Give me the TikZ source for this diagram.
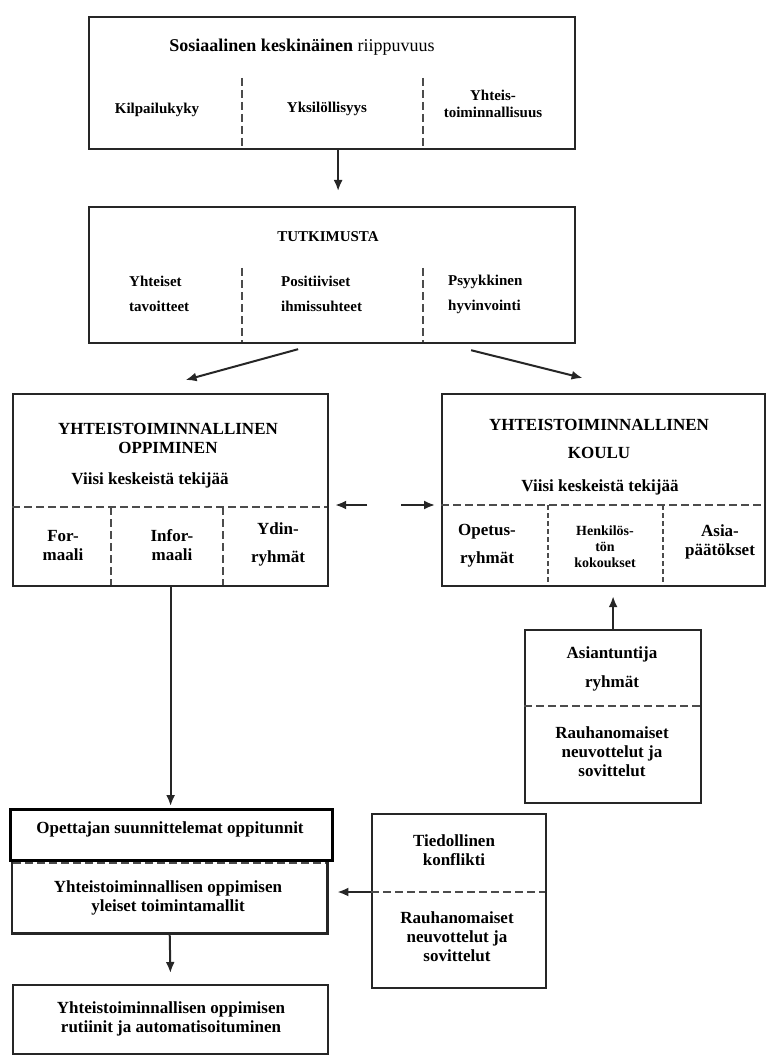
\documentclass[tikz,border=0pt]{standalone}
\usepackage{fontspec}
\setmainfont{Liberation Serif}
\usetikzlibrary{positioning,arrows.meta}

\begin{document}
\begin{tikzpicture}[
  x=1pt, y=-1pt,
  font=\fontsize{17}{19}\selectfont\bfseries,
  >=Latex,
  box/.style={draw=black!85, line width=2.2pt, anchor=north west, inner sep=0pt},
  split/.style={draw=black!70, line width=2pt, dash pattern=on 8pt off 4pt},
  txt/.style={align=center, inner sep=0pt},
  small/.style={font=\fontsize{15}{17}\selectfont\bfseries},
  arrow/.style={-{Latex[length=11pt,width=9pt]}, line width=2pt, draw=black!85, fill=black!85},
]
\useasboundingbox (0,0) rectangle (768,1056);

% Core boxes
\node[box, minimum width=486, minimum height=132] (social) at (88,16) {};
\node[box, minimum width=486, minimum height=136] (research) at (88,206) {};
\node[box, minimum width=315, minimum height=192] (learning) at (12,393) {};
\node[box, minimum width=323, minimum height=192] (school) at (441,393) {};
\node[box, minimum width=176, minimum height=173] (expert) at (524,629) {};
\node[box, minimum width=174, minimum height=174] (conflict) at (371,813) {};
\node[anchor=north west, inner sep=0pt, minimum width=315, minimum height=74] (models) at (12,859) {};
\node[box, minimum width=315, minimum height=69] (routine) at (12,984) {};

% models box: open top, dashed
\draw[draw=black!85, line width=2.2pt] (models.north west) -- (models.south west) -- (models.south east) -- (models.north east);
\draw[split] (13,863) -- (326,863);
\node[box, draw=black, line width=3pt, minimum width=322, minimum height=51] (plan) at (9,808) {};

% Inner dividers (dashed)
\draw[split] (242,78) -- (242,148);
\draw[split] (423,78) -- (423,148);
\draw[split] (242,268) -- (242,342);
\draw[split] (423,268) -- (423,342);

\draw[split] (12,507) -- (327,507);
\draw[split] (111,507) -- (111,585);
\draw[split] (223,507) -- (223,585);

\draw[split] (441,505) -- (764,505);
\draw[split, line width=1.3pt, dash pattern=on 5pt off 3pt] (548,505) -- (548,585);
\draw[split, line width=1.3pt, dash pattern=on 5pt off 3pt] (663,505) -- (663,585);

\draw[split] (524,706) -- (700,706);
\coordinate (confsplit) at (371,892);
\draw[split] (confsplit) -- (545,892);

% Texts
\node[txt, font=\fontsize{18}{20}\selectfont] (socialT) at (302,47) {\textbf{Sosiaalinen keskinäinen} riippuvuus};
\node[txt, small] (compete) at (157,110) {Kilpailukyky};
\node[txt, small] (individ) at (327,109) {Yksilöllisyys};
\node[txt, small] (coop) at (493,104) {Yhteis-\\toiminnallisuus};

\node[txt, small] (researchT) at (328,237) {TUTKIMUSTA};
\node[txt, small, align=left, anchor=west] (goals) at (129,294) {Yhteiset\\[8pt]tavoitteet};
\node[txt, small, align=left, anchor=west] (relations) at (281,294) {Positiiviset\\[8pt]ihmissuhteet};
\node[txt, small, align=left, anchor=west] (wellbeing) at (448,294) {Psyykkinen\\[8pt]hyvinvointi};

\node[txt] (learningT) at (168,438) {YHTEISTOIMINNALLINEN\\OPPIMINEN};
\node[txt] (learningF) at (150,480) {Viisi keskeistä tekijää};
\node[txt] (formal) at (63,546) {For-\\maali};
\node[txt] (informal) at (172,545) {Infor-\\maali};
\node[txt] (core) at (278,544) {Ydin-\\[9pt]ryhmät};

\node[txt] (schoolT) at (599,439) {YHTEISTOIMINNALLINEN\\[9pt]KOULU};
\node[txt] (schoolF) at (600,487) {Viisi keskeistä tekijää};
\node[txt] (teach) at (487,546) {Opetus-\\[9pt]ryhmät};
\node[txt, font=\fontsize{14}{16}\selectfont\bfseries] (staff) at (605,547) {Henkilös-\\tön\\kokoukset};
\node[txt] (decide) at (720,542) {Asia-\\päätökset};

\node[txt] (expertT) at (612,669) {Asiantuntija\\[10pt]ryhmät};
\node[txt] (expertB) at (612,752) {Rauhanomaiset\\neuvottelut ja\\sovittelut};

\node[txt] (conflictT) at (454,850) {Tiedollinen\\konflikti};
\node[txt] (conflictB) at (457,937) {Rauhanomaiset\\neuvottelut ja\\sovittelut};

\node[txt] (planT) at (170,829) {Opettajan suunnittelemat oppitunnit};
\node[txt] (modelsT) at (168,898) {Yhteistoiminnallisen oppimisen\\yleiset toimintamallit};
\node[txt] (routineT) at (171,1019) {Yhteistoiminnallisen oppimisen\\rutiinit ja automatisoituminen};

% Arrows
\draw[arrow, shorten >=15pt] ([xshift=6pt]social.south) -- ([xshift=6pt]research.north);
\draw[arrow] ([shift={(-34,5)}]research.south) -- ([shift={(15,-13)}]learning.north);
\draw[arrow] ([shift={(139,6)}]research.south) -- ([shift={(-21,-15)}]school.north);

\coordinate (mid) at (384,505);
\draw[arrow, shorten >=6pt] ([xshift=-17pt]mid) -- (mid -| learning.east);
\draw[arrow, shorten >=6pt] ([xshift=17pt]mid) -- (mid -| school.west);

\draw[arrow, shorten >=9pt] (expert.north) -- (expert.north |- school.south);
\draw[arrow, shorten >=2pt] (learning.south) -- (learning.south |- plan.north);
\draw[arrow, shorten >=11pt] (models.south) -- (routine.north);
\draw[arrow, shorten >=10pt] (confsplit) -- (confsplit -| models.east);

\end{tikzpicture}
\end{document}
